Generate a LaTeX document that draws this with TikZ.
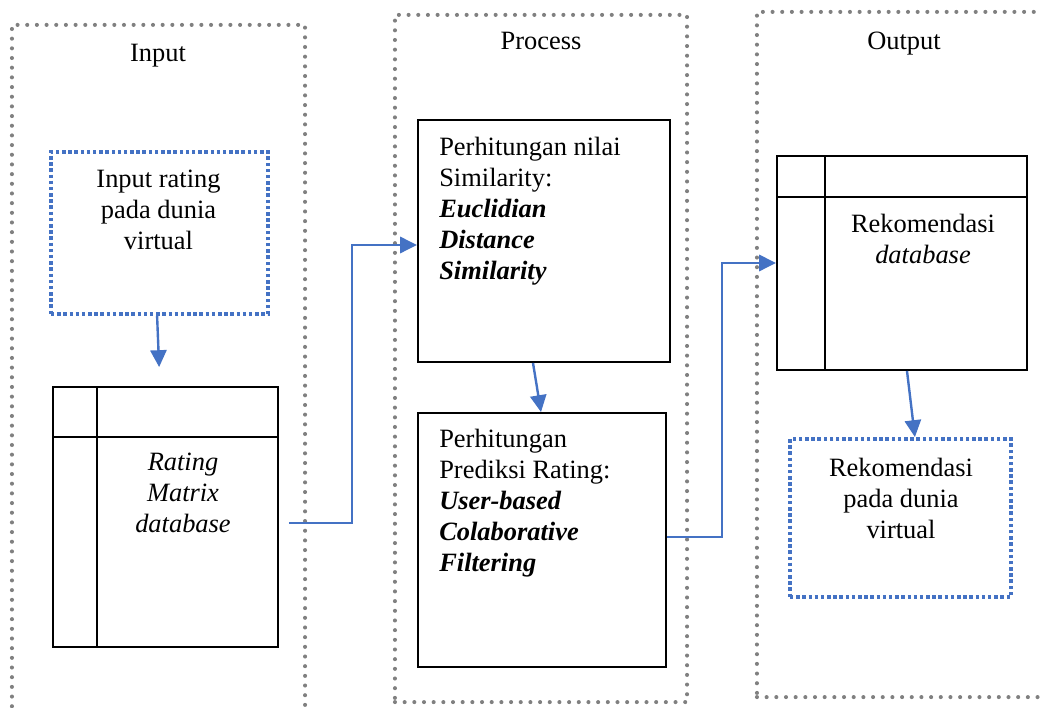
\documentclass[tikz,border=0pt]{standalone}
\usepackage{fontspec}
\setmainfont{Liberation Serif}
\usetikzlibrary{arrows.meta}
\definecolor{flowblue}{HTML}{4472C4}
\definecolor{dotgray}{HTML}{808080}
\newcommand{\diagfont}{\fontsize{18.8}{22}\selectfont}
\tikzset{
  stage/.style={draw=dotgray, line width=2.9pt, line cap=round, dash pattern=on 0pt off 6.88pt},
  virtbox/.style={draw=flowblue, line width=2.7pt, dash pattern=on 2.5pt off 1.9pt},
  procbox/.style={draw, line width=1.3pt},
  tablebox/.style={draw, line width=1.3pt},
  txt/.style={inner sep=0pt, font=\diagfont},
  txtit/.style={inner sep=0pt, font=\diagfont\itshape},
  flow/.style={draw=flowblue, line width=1.7pt, -{Triangle[length=12pt,width=11.5pt]}}
}

\begin{document}
\begin{tikzpicture}[x=0.025cm, y=-0.025cm]
\useasboundingbox (0,0) rectangle (1041,708);
\clip (0,0) rectangle (1041,708);

% stage frames
\node[stage, minimum width=7.325cm, minimum height=18.375cm] (input) at (158.5,392.5) {};
\node[stage, minimum width=7.3cm, minimum height=17.175cm] (process) at (541,358.5) {};
\node[stage, minimum width=8.075cm, minimum height=17.125cm] (output) at (918.5,354.5) {};
\node[txt, anchor=base] (input-t) at (158,62) {Input};
\node[txt, anchor=base] (process-t) at (541,50) {Process};
\node[txt, anchor=base] (output-t) at (904,50) {Output};

% input
\node[virtbox, minimum width=5.425cm, minimum height=4.05cm] (vin) at (159.5,233) {};
\node[txt, anchor=north, align=center] (vin-t) at (158.5,170) {Input rating\\pada dunia\\virtual};
\node[tablebox, minimum width=5.625cm, minimum height=6.5cm] (rtab) at (165.5,517) {};
\draw[line width=1.3pt] ([xshift=1.125cm]rtab.north west) -- ([xshift=1.125cm]rtab.south west);
\draw[line width=1.3pt] ([yshift=-1.275cm]rtab.north west) -- ([yshift=-1.275cm]rtab.north east);
\node[txtit, anchor=north, align=center] (rtab-t) at (183,453) {Rating\\Matrix\\database};

% process
\node[procbox, minimum width=6.3cm, minimum height=6.05cm] (sim) at (544,241) {};
\node[txt, anchor=north west, align=left] (sim-t) at (439,137)
  {Perhitungan nilai\\Similarity:\\\textbf{\textit{Euclidian}}\\\textbf{\textit{Distance}}\\\textbf{\textit{Similarity}}};
\node[procbox, minimum width=6.2cm, minimum height=6.35cm] (pred) at (542,540) {};
\node[txt, anchor=north west, align=left] (pred-t) at (439,429)
  {Perhitungan\\Prediksi Rating:\\\textbf{\textit{User-based}}\\\textbf{\textit{Colaborative}}\\\textbf{\textit{Filtering}}};

% output
\node[tablebox, minimum width=6.25cm, minimum height=5.35cm] (otab) at (902,263) {};
\draw[line width=1.3pt] ([xshift=1.225cm]otab.north west) -- ([xshift=1.225cm]otab.south west);
\draw[line width=1.3pt] ([yshift=-1.05cm]otab.north west) -- ([yshift=-1.05cm]otab.north east);
\node[txt, anchor=north, align=center] (otab-t) at (923,214) {Rekomendasi\\\textit{database}};
\node[virtbox, minimum width=5.525cm, minimum height=3.95cm] (vout) at (900.5,518) {};
\node[txt, anchor=north, align=center] (vout-t) at (901,458) {Rekomendasi\\pada dunia\\virtual};

% connectors
\coordinate (ch1) at (352,0);
\coordinate (ch2) at (722,0);
\coordinate (rout) at ([yshift=-0.15cm]rtab.east);
\coordinate (simin) at ([yshift=-0.1cm]sim.west);
\draw[flow, shorten >=0.475cm] ([xshift=-0.06cm]vin.south) -- ([xshift=-0.14cm]rtab.north);
\draw[flow, shorten <=0.25cm] (rout) -| (ch1 |- simin) -- (simin);
\draw[flow] ([xshift=-0.275cm]sim.south) -- ([xshift=-0.025cm]pred.north);
\draw[flow] ([yshift=0.075cm]pred.east) -| (ch2 |- otab.west) -- (otab.west);
\draw[flow] ([xshift=0.125cm]otab.south) -- ([xshift=0.36cm]vout.north);
\end{tikzpicture}
\end{document}
